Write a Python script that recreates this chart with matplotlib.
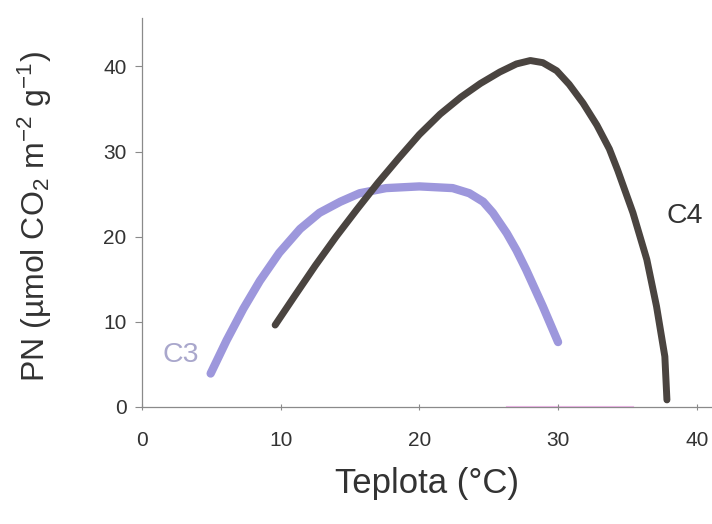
import matplotlib
matplotlib.use("Agg")
import matplotlib.pyplot as plt

plt.rcParams['font.family'] = ['Liberation Sans', 'DejaVu Sans']
plt.rcParams['mathtext.fontset'] = 'custom'
plt.rcParams['mathtext.rm'] = 'Liberation Sans'
plt.rcParams['mathtext.it'] = 'Liberation Sans:italic'

# C3 curve
c3_t = [4.95, 6.1, 7.3, 8.5, 9.9, 11.4, 12.8, 14.3, 15.7, 17.6, 20.0, 22.4,
        23.6, 24.6, 25.3, 26.3, 27.0, 27.7, 28.9, 30.0]
c3_pn = [3.9, 7.8, 11.5, 14.8, 18.1, 20.9, 22.8, 24.1, 25.1, 25.7, 25.9, 25.7,
         25.1, 24.1, 22.8, 20.4, 18.4, 16.1, 11.8, 7.6]

# C4 curve
c4_t = [9.6, 11.0, 12.5, 14.0, 15.5, 17.0, 18.5, 20.0, 21.5, 23.0, 24.4, 25.8,
        27.0, 28.0, 28.9, 29.9, 30.8, 31.8, 32.8, 33.7, 34.3, 35.4, 36.4, 37.1,
        37.7, 37.85]
c4_pn = [9.6, 13.0, 16.6, 20.0, 23.2, 26.3, 29.2, 32.0, 34.4, 36.4, 38.0, 39.35,
         40.3, 40.7, 40.45, 39.5, 37.9, 35.7, 33.1, 30.3, 27.8, 22.8, 17.3, 11.8,
         5.9, 0.8]

xticks = [0, 10, 20, 30, 40]
yticks = [0, 10, 20, 30, 40]

fig = plt.figure(figsize=(7.12, 5.24), dpi=100)
ax = fig.add_axes([142 / 712, 1 - 406.7 / 524, 1 - 142 / 712, (406.7 - 18) / 524])

ax.plot(c3_t, c3_pn, color='#9d97dc', lw=6.0, solid_capstyle='round',
        solid_joinstyle='round', zorder=2)
ax.plot(c4_t, c4_pn, color='#4a4440', lw=5.0, solid_capstyle='round',
        solid_joinstyle='round', zorder=3)
# faint pink smudge on the axis in the scan
ax.plot([26.3, 35.4], [0, 0], color='#f2a6ea', lw=1.5, alpha=0.8, zorder=1,
        clip_on=False)

ax.text(2.8, 6.1, 'C3', color='#a9a7cc', fontsize=20.5, ha='center', va='center')
ax.text(39.1, 22.4, 'C4', color='#333333', fontsize=20.5, ha='center', va='center')

ax.set_xlim(0, 41.1)
ax.set_ylim(0, 45.7)
ax.set_xticks(xticks)
ax.set_yticks(yticks)

for s in ['top', 'right']:
    ax.spines[s].set_visible(False)
for s in ['left', 'bottom']:
    ax.spines[s].set_color('#8a8a8a')
    ax.spines[s].set_linewidth(0.9)

ax.tick_params(axis='y', direction='out', length=5, width=0.8, color='#8a8a8a',
               labelsize=15, labelcolor='#333333', pad=6)
ax.tick_params(axis='x', direction='inout', length=5, width=0.8, color='#8a8a8a',
               labelsize=15, labelcolor='#333333', pad=15)

ax.set_xlabel('Teplota (°C)', fontsize=25, color='#333333')
ax.set_ylabel('PN (µmol CO$_2$ m$^{-2}$ g$^{-1}$)', fontsize=23, color='#333333')
ax.xaxis.set_label_coords(0.5, -0.155)
ax.yaxis.set_label_coords(-0.155, 0.49)

fig.savefig('out.png', dpi=100)
